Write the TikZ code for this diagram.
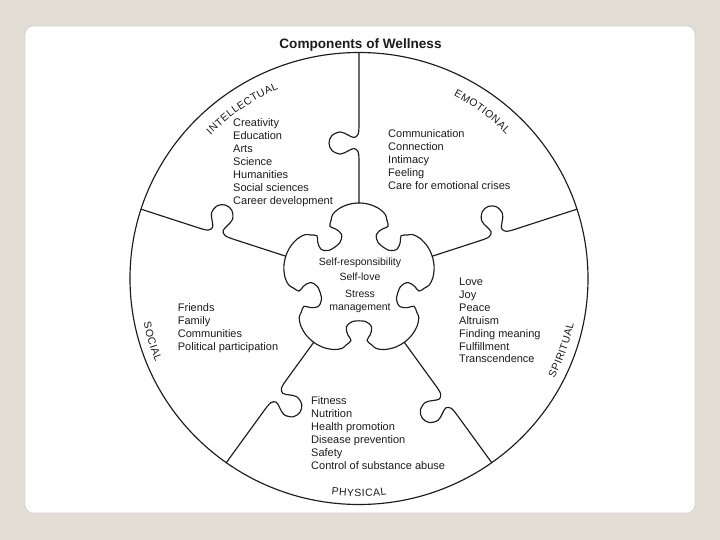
\documentclass[tikz,border=0pt]{standalone}
\usepackage{fontspec}
\setmainfont{Liberation Sans}
\usetikzlibrary{decorations.text}
\definecolor{bgbeige}{RGB}{227,222,213}
\definecolor{ink}{RGB}{28,28,28}
\newcommand{\lk}{\kern0.5pt}
\begin{document}
\begin{tikzpicture}[x=1pt, y=1pt, line join=round, line cap=round,
  outline/.style={draw=ink, line width=1.15pt},
  listtext/.style={anchor=north west, inner sep=0pt, align=left, text=ink, font=\fontsize{11}{12.9}\selectfont},
  ctext/.style={anchor=base, inner sep=0pt, text=ink, font=\fontsize{10.5}{12}\selectfont},
  arclabel/.style={decorate, decoration={text along path, text align=center, text color=ink, text={|\fontsize{10.5}{12}\selectfont|#1}}}
]
\useasboundingbox (-359,-260) rectangle (361,280);
\fill[bgbeige] (-359,-260) rectangle (361,280);
\draw[draw=black!18, fill=white, rounded corners=8pt, line width=0.8pt] (-334,-233) rectangle (336,254);

% radial puzzle lines
\begin{scope}
  \clip (0,1.5) ellipse [x radius=229, y radius=226];
  \foreach \ang/\k/\s in {90/137/1, 18/146/1, -54/149/-1, -126/142/1, 162/150/-1} {
    \begin{scope}[rotate=\ang, yscale=\s]
      \draw[outline] (77,0) -- plot[smooth, tension=0.6] coordinates {({\k-18},0) ({\k-9},0.8) ({\k-5.5},5) ({\k-8},11) ({\k-11},18.5) ({\k-7.5},27) (\k,30) ({\k+7.5},27) ({\k+11},18.5) ({\k+8},11) ({\k+5.5},5) ({\k+9},0.8) ({\k+18},0)} -- (260,0);
    \end{scope}
  }
\end{scope}

% outer circle
\draw[outline] (0,1.5) ellipse [x radius=229, y radius=226];

% central piece
\def\piecepts{}
\foreach \b in {54,126,198,270,342} {
  \foreach \da/\dr in {-36/77, -28/76.3, -20/74, -14/70.5, -11/66, -7.5/61, -11.5/56, -15/49, -9/42, 9/42, 15/49, 11.5/56, 7.5/61, 11/66, 14/70.5, 20/74, 28/76.3} {
    \pgfmathsetmacro\pa{\b+\da}
    \xdef\piecepts{\piecepts (\pa:\dr)}
  }
}
\edef\drawpiece{\noexpand\draw[outline] plot[smooth cycle, tension=0.55] coordinates {\piecepts};}
\drawpiece

% title
\node[anchor=base, inner sep=0pt, text=ink, font=\bfseries\fontsize{13.6}{16}\selectfont] (title) at (1.5,231) {Components of Wellness};

% curved sector labels
\path[arclabel={{I\lk}{N\lk}{T\lk}{E\lk}{L\lk}{L\lk}{E\lk}{C\lk}{T\lk}{U\lk}{A\lk}{L}}] (0,1.5) ++(142:206) arc[start angle=142, end angle=107, radius=206];
\path[arclabel={{E\lk}{M\lk}{O\lk}{T\lk}{I\lk}{O\lk}{N\lk}{A\lk}{L}}] (0,1.5) ++(71:206) arc[start angle=71, end angle=36, radius=206];
\path[arclabel={{S\lk}{P\lk}{I\lk}{R\lk}{I\lk}{T\lk}{U\lk}{A\lk}{L}}] (0,1.5) ++(-37:219.5) arc[start angle=-37, end angle=-2, radius=219.5];
\path[arclabel={{S\lk}{O\lk}{C\lk}{I\lk}{A\lk}{L}}] (0,1.5) ++(179:220) arc[start angle=179, end angle=215, radius=220];
\path[arclabel={{P\lk}{H\lk}{Y\lk}{S\lk}{I\lk}{C\lk}{A\lk}{L}}] (0,1.5) ++(254:218) arc[start angle=254, end angle=286, radius=218];

% lists
\node[listtext] (intel) at (-126,161.2) {Creativity\\Education\\Arts\\Science\\Humanities\\Social sciences\\Career development};
\node[listtext] (emo) at (29,150.2) {Communication\\Connection\\Intimacy\\Feeling\\Care for emotional crises};
\node[listtext] (spir) at (100,2.2) {Love\\Joy\\Peace\\Altruism\\Finding meaning\\Fulfillment\\Transcendence};
\node[listtext] (soc) at (-181.3,-23.8) {Friends\\Family\\Communities\\Political participation};
\node[listtext] (phys) at (-48,-116.5) {Fitness\\Nutrition\\Health promotion\\Disease prevention\\Safety\\Control of substance abuse};

% center
\node[ctext] (sr) at (1,14.3) {Self-responsibility};
\node[ctext] (sl) at (1,-0.7) {Self-love};
\node[ctext] (st) at (1,-18) {Stress};
\node[ctext] (sm) at (1,-30.7) {management};
\end{tikzpicture}
\end{document}
